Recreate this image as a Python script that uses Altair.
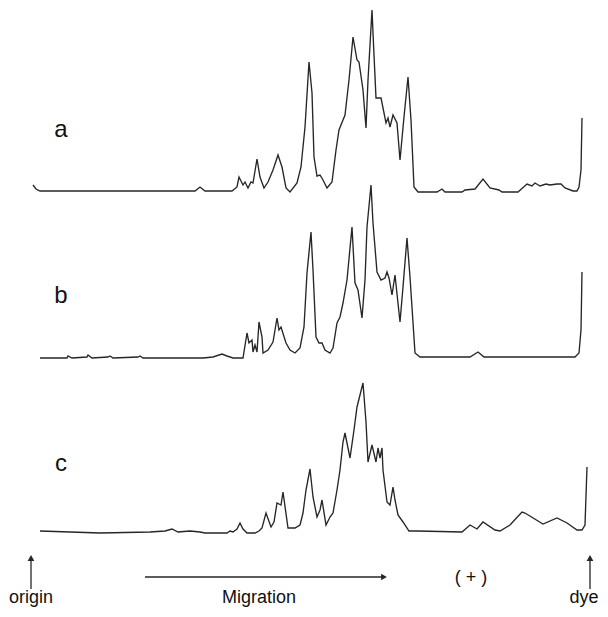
import altair as alt
import pandas as pd

# Densitometric traces: migration position (x) and band intensity above each trace's baseline
xa = [33, 36, 40, 195, 200, 205, 232, 237, 239, 243, 245, 248, 251, 253, 257, 260, 264, 268, 273, 278, 282, 286,
      290, 297, 301, 305, 309, 312, 314, 317, 320, 323, 327, 332, 336, 339, 345, 349, 353, 357, 359, 363, 366, 368,
      372, 373, 376, 381, 386, 388, 390, 393, 397, 400, 404, 408, 411, 414, 418, 437, 442, 445, 462, 465, 475, 483,
      490, 499, 502, 518, 527, 532, 535, 540, 546, 550, 557, 561, 565, 573, 577, 579, 581, 582]
ia = [6, 2, 0, 0, 4, 0, 0, 4, 14, 6, 9, 3, 9, 8, 32, 14, 3, 9, 21, 36, 24, 3,
      -1, 8, 24, 64, 129, 98, 34, 15, 16, 11, 3, 9, 41, 61, 76, 111, 154, 131, 129, 101, 63, 111,
      181, 158, 93, 93, 68, 73, 64, 76, 68, 31, 74, 114, 71, 4, -1, -1, 2, -1, -1, 1, 2, 12,
      3, 1, -1, -1, 7, 5, 8, 5, 7, 6, 7, 7, 3, 0, 0, 4, 21, 73]

xb = [40, 67, 68, 72, 87, 88, 92, 108, 110, 113, 138, 140, 143, 203, 213, 222, 227, 233, 243, 247, 249, 252, 253,
      255, 257, 259, 262, 263, 268, 273, 277, 279, 281, 286, 290, 295, 300, 304, 307, 311, 313, 316, 319, 322, 325,
      330, 333, 337, 340, 343, 347, 352, 355, 358, 362, 365, 367, 371, 373, 377, 381, 385, 387, 389, 392, 395, 400,
      403, 407, 410, 415, 420, 470, 478, 484, 575, 579, 581, 582]
ib = [-1, -1, 1, -1, 0, 2, -1, 0, 1, -1, 0, 1, -1, -1, 0, 3, 1, -1, -1, 24, 14, 17, 5,
      12, 5, 35, 20, 4, 7, 15, 39, 27, 30, 14, 7, 4, 9, 30, 84, 125, 87, 20, 14, 14, 7,
      4, 9, 34, 40, 54, 77, 130, 74, 67, 39, 77, 130, 172, 134, 85, 77, 79, 85, 79, 62, 82, 35,
      70, 119, 80, 4, 0, 0, 5, 0, 0, 4, 27, 85]

xc = [40, 100, 150, 165, 172, 178, 190, 200, 205, 213, 227, 230, 233, 237, 240, 243, 247, 255, 259, 262, 266, 271,
      274, 277, 281, 283, 288, 295, 300, 303, 306, 310, 313, 317, 320, 322, 326, 330, 333, 337, 340, 343, 345, 350,
      354, 357, 363, 366, 368, 372, 376, 378, 380, 382, 383, 387, 390, 393, 395, 398, 403, 409, 418, 462, 470, 477,
      483, 495, 500, 510, 522, 525, 543, 557, 567, 577, 582, 585, 587]
ic = [1, -1, 0, 1, 3, 0, 1, 0, -1, -1, -1, 1, 0, 3, 9, 3, -1, -1, 1, 4, 19, 5,
      10, 29, 27, 40, 4, 4, 7, 19, 42, 63, 35, 15, 22, 32, 7, 15, 19, 42, 62, 90, 99, 74,
      102, 125, 149, 110, 70, 87, 70, 84, 74, 84, 62, 30, 27, 45, 32, 17, 10, 1, 1, 0, 7, 3,
      10, 2, 1, 7, 20, 19, 8, 14, 9, 2, 2, 7, 65]

trace_names = ["a", "b", "c"]
trace_offsets = [417, 251, 76]
label_levels = [478, 312, 144]

bottom_labels = ["origin", "Migration", "dye"]
bottom_label_x = [31, 259, 584]

rows = []
for name, off, xs, ys in zip(trace_names, trace_offsets, [xa, xb, xc], [ia, ib, ic]):
    for k, (x, v) in enumerate(zip(xs, ys)):
        rows.append({"trace": name, "i": k, "x": x, "y": off + v})
df = pd.DataFrame(rows)

X = alt.Scale(domain=[8, 600])
Y = alt.Scale(domain=[1, 600])
FONT = "Liberation Sans"
INK = "#262626"

lines = alt.Chart(df).mark_line(color=INK, strokeWidth=1.35).encode(
    x=alt.X("x:Q", scale=X, axis=None),
    y=alt.Y("y:Q", scale=Y, axis=None),
    detail="trace:N",
    order="i:Q",
)

lab_df = pd.DataFrame({"t": trace_names, "x": [61, 61, 61], "y": label_levels})
labels = alt.Chart(lab_df).mark_text(font=FONT, fontSize=24, color="#111").encode(
    x=alt.X("x:Q", scale=X), y=alt.Y("y:Q", scale=Y), text="t:N"
)

# vertical arrows (origin, dye)
va = pd.DataFrame({"x": [31, 590], "y": [19, 19], "y2": [50, 50]})
vrules = alt.Chart(va).mark_rule(color=INK, strokeWidth=1.3).encode(
    x=alt.X("x:Q", scale=X), y=alt.Y("y:Q", scale=Y), y2="y2:Q"
)
vheads = alt.Chart(va).mark_point(shape="triangle-up", filled=True, color=INK, size=45, opacity=1).encode(
    x=alt.X("x:Q", scale=X), y=alt.Y("y2:Q", scale=Y)
)

ha = pd.DataFrame({"x": [145], "x2": [384], "y": [31]})
hrule = alt.Chart(ha).mark_rule(color=INK, strokeWidth=1.3).encode(
    x=alt.X("x:Q", scale=X), x2="x2:Q", y=alt.Y("y:Q", scale=Y)
)
hhead = alt.Chart(ha).mark_point(shape="triangle-right", filled=True, color=INK, size=45, opacity=1).encode(
    x=alt.X("x2:Q", scale=X), y=alt.Y("y:Q", scale=Y)
)

bl = pd.DataFrame({"t": bottom_labels, "x": bottom_label_x, "y": [5, 5, 5]})
btext = alt.Chart(bl).mark_text(font=FONT, fontSize=18, color="#111", baseline="alphabetic").encode(
    x=alt.X("x:Q", scale=X), y=alt.Y("y:Q", scale=Y), text="t:N"
)
plus = alt.Chart(pd.DataFrame({"t": ["( + )"], "x": [471], "y": [30]})).mark_text(
    font=FONT, fontSize=18, color="#111"
).encode(x=alt.X("x:Q", scale=X), y=alt.Y("y:Q", scale=Y), text="t:N")

chart = alt.layer(lines, labels, vrules, vheads, hrule, hhead, btext, plus).properties(
    width=592, height=599, autosize=alt.AutoSizeParams(type="none"), padding=0
).configure_view(stroke=None)

chart.save("out.html", embed_options={"renderer": "svg", "actions": False})
